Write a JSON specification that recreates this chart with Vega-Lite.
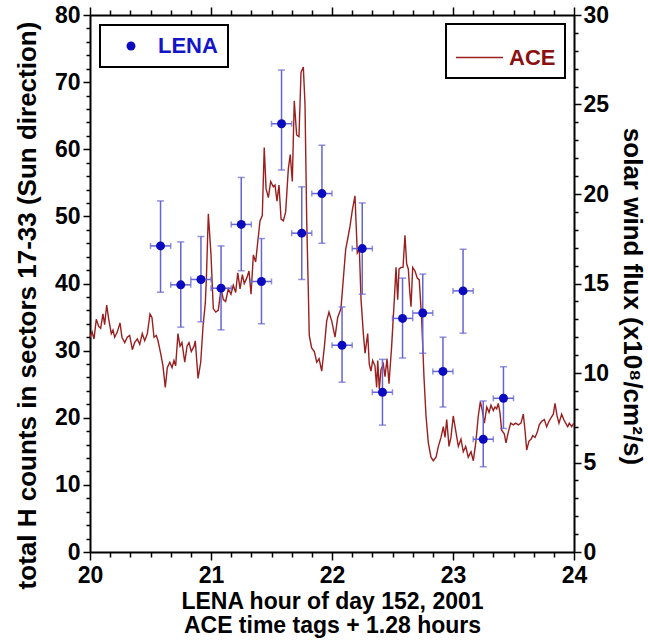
{
  "$schema": "https://vega.github.io/schema/vega-lite/v6.json",
  "width": 484,
  "height": 537,
  "autosize": {"type": "none"},
  "padding": {"left": 90, "top": 15, "right": 74, "bottom": 91},
  "config": {
    "view": {"stroke": null},
    "font": "Liberation Sans",
    "axis": {
      "grid": false,
      "domainColor": "black",
      "domainWidth": 2,
      "tickColor": "black",
      "tickWidth": 1.5,
      "labelFont": "Liberation Sans",
      "labelFontWeight": "bold",
      "labelFontSize": 23,
      "labelColor": "black",
      "titleFont": "Liberation Sans",
      "titleFontWeight": "bold",
      "titleColor": "black",
      "labelOverlap": false,
      "labelFlush": false
    },
    "legend": {
      "labelFont": "Liberation Sans",
      "labelFontWeight": "bold",
      "labelFontSize": 22,
      "strokeWidth": 2
    }
  },
  "datasets": {
    "ace": [
      {"hour":20.000,"flux":12.0},{"hour":20.017,"flux":12.3},{"hour":20.033,"flux":11.9},{"hour":20.052,"flux":13.0},{"hour":20.072,"flux":12.6},{"hour":20.088,"flux":12.5},{"hour":20.107,"flux":13.3},{"hour":20.121,"flux":12.7},{"hour":20.138,"flux":13.8},{"hour":20.155,"flux":13.0},{"hour":20.176,"flux":12.2},{"hour":20.190,"flux":12.4},{"hour":20.204,"flux":12.0},{"hour":20.226,"flux":12.3},{"hour":20.248,"flux":12.8},{"hour":20.264,"flux":12.0},{"hour":20.287,"flux":11.7},{"hour":20.308,"flux":12.0},{"hour":20.328,"flux":12.1},{"hour":20.350,"flux":11.3},{"hour":20.369,"flux":11.7},{"hour":20.391,"flux":11.9},{"hour":20.411,"flux":11.6},{"hour":20.432,"flux":12.2},{"hour":20.452,"flux":11.8},{"hour":20.474,"flux":12.2},{"hour":20.496,"flux":13.3},{"hour":20.512,"flux":13.1},{"hour":20.529,"flux":12.0},{"hour":20.548,"flux":12.1},{"hour":20.562,"flux":11.8},{"hour":20.584,"flux":11.1},{"hour":20.603,"flux":10.4},{"hour":20.622,"flux":9.2},{"hour":20.639,"flux":10.3},{"hour":20.659,"flux":10.6},{"hour":20.678,"flux":10.3},{"hour":20.694,"flux":10.7},{"hour":20.708,"flux":10.4},{"hour":20.727,"flux":12.2},{"hour":20.744,"flux":11.5},{"hour":20.760,"flux":11.7},{"hour":20.783,"flux":10.6},{"hour":20.802,"flux":11.5},{"hour":20.818,"flux":11.7},{"hour":20.837,"flux":11.2},{"hour":20.860,"flux":11.5},{"hour":20.870,"flux":11.8},{"hour":20.893,"flux":9.7},{"hour":20.915,"flux":10.6},{"hour":20.934,"flux":12.6},{"hour":20.953,"flux":13.9},{"hour":20.962,"flux":15.3},{"hour":20.978,"flux":18.9},{"hour":21.000,"flux":16.6},{"hour":21.019,"flux":13.6},{"hour":21.039,"flux":13.4},{"hour":21.060,"flux":13.5},{"hour":21.083,"flux":14.7},{"hour":21.102,"flux":14.1},{"hour":21.121,"flux":14.0},{"hour":21.143,"flux":14.7},{"hour":21.165,"flux":14.4},{"hour":21.184,"flux":14.9},{"hour":21.204,"flux":14.5},{"hour":21.221,"flux":15.6},{"hour":21.240,"flux":14.7},{"hour":21.259,"flux":15.5},{"hour":21.275,"flux":15.0},{"hour":21.295,"flux":15.3},{"hour":21.314,"flux":15.7},{"hour":21.331,"flux":14.4},{"hour":21.350,"flux":16.6},{"hour":21.369,"flux":16.2},{"hour":21.386,"flux":17.3},{"hour":21.405,"flux":18.5},{"hour":21.424,"flux":18.8},{"hour":21.440,"flux":22.6},{"hour":21.455,"flux":20.3},{"hour":21.474,"flux":19.8},{"hour":21.493,"flux":20.7},{"hour":21.515,"flux":20.4},{"hour":21.529,"flux":20.5},{"hour":21.545,"flux":19.6},{"hour":21.562,"flux":20.5},{"hour":21.579,"flux":18.6},{"hour":21.598,"flux":18.5},{"hour":21.617,"flux":19.0},{"hour":21.639,"flux":21.4},{"hour":21.655,"flux":22.2},{"hour":21.672,"flux":20.7},{"hour":21.688,"flux":25.2},{"hour":21.708,"flux":23.3},{"hour":21.727,"flux":23.2},{"hour":21.744,"flux":26.8},{"hour":21.763,"flux":27.1},{"hour":21.777,"flux":25.0},{"hour":21.791,"flux":18.5},{"hour":21.804,"flux":14.7},{"hour":21.812,"flux":12.1},{"hour":21.832,"flux":11.4},{"hour":21.854,"flux":11.2},{"hour":21.874,"flux":10.6},{"hour":21.893,"flux":10.8},{"hour":21.915,"flux":10.1},{"hour":21.936,"flux":11.4},{"hour":21.956,"flux":12.9},{"hour":21.975,"flux":13.4},{"hour":21.998,"flux":12.9},{"hour":22.025,"flux":12.0},{"hour":22.047,"flux":13.1},{"hour":22.074,"flux":13.6},{"hour":22.093,"flux":15.2},{"hour":22.113,"flux":16.9},{"hour":22.130,"flux":17.5},{"hour":22.149,"flux":18.2},{"hour":22.168,"flux":19.1},{"hour":22.190,"flux":19.9},{"hour":22.209,"flux":16.7},{"hour":22.226,"flux":16.9},{"hour":22.240,"flux":14.1},{"hour":22.259,"flux":12.2},{"hour":22.273,"flux":11.1},{"hour":22.295,"flux":12.2},{"hour":22.308,"flux":10.5},{"hour":22.322,"flux":10.1},{"hour":22.336,"flux":10.7},{"hour":22.355,"flux":10.4},{"hour":22.369,"flux":9.2},{"hour":22.378,"flux":10.7},{"hour":22.391,"flux":9.1},{"hour":22.405,"flux":10.2},{"hour":22.424,"flux":10.5},{"hour":22.438,"flux":9.8},{"hour":22.455,"flux":10.8},{"hour":22.471,"flux":9.4},{"hour":22.493,"flux":11.5},{"hour":22.515,"flux":14.1},{"hour":22.529,"flux":15.9},{"hour":22.543,"flux":14.1},{"hour":22.554,"flux":15.8},{"hour":22.570,"flux":15.9},{"hour":22.587,"flux":15.9},{"hour":22.603,"flux":17.7},{"hour":22.617,"flux":16.1},{"hour":22.631,"flux":15.8},{"hour":22.642,"flux":14.6},{"hour":22.653,"flux":13.7},{"hour":22.667,"flux":15.9},{"hour":22.686,"flux":15.7},{"hour":22.705,"flux":15.3},{"hour":22.721,"flux":15.2},{"hour":22.741,"flux":13.0},{"hour":22.760,"flux":9.8},{"hour":22.777,"flux":7.6},{"hour":22.796,"flux":6.1},{"hour":22.818,"flux":5.3},{"hour":22.837,"flux":5.1},{"hour":22.860,"flux":5.3},{"hour":22.879,"flux":5.9},{"hour":22.901,"flux":6.4},{"hour":22.920,"flux":7.0},{"hour":22.934,"flux":6.4},{"hour":22.948,"flux":7.4},{"hour":22.967,"flux":5.9},{"hour":22.983,"flux":6.4},{"hour":23.002,"flux":7.6},{"hour":23.022,"flux":6.8},{"hour":23.044,"flux":5.9},{"hour":23.066,"flux":6.3},{"hour":23.085,"flux":5.6},{"hour":23.105,"flux":5.9},{"hour":23.126,"flux":5.3},{"hour":23.149,"flux":5.6},{"hour":23.168,"flux":5.1},{"hour":23.188,"flux":6.1},{"hour":23.209,"flux":7.6},{"hour":23.226,"flux":8.4},{"hour":23.242,"flux":7.9},{"hour":23.259,"flux":7.2},{"hour":23.279,"flux":8.1},{"hour":23.298,"flux":7.8},{"hour":23.314,"flux":8.2},{"hour":23.333,"flux":7.9},{"hour":23.347,"flux":8.1},{"hour":23.361,"flux":8.0},{"hour":23.374,"flux":8.3},{"hour":23.388,"flux":7.8},{"hour":23.402,"flux":6.8},{"hour":23.424,"flux":6.6},{"hour":23.438,"flux":6.1},{"hour":23.457,"flux":6.7},{"hour":23.477,"flux":7.2},{"hour":23.498,"flux":7.1},{"hour":23.518,"flux":7.2},{"hour":23.540,"flux":7.1},{"hour":23.562,"flux":7.2},{"hour":23.581,"flux":7.7},{"hour":23.595,"flux":6.8},{"hour":23.609,"flux":5.7},{"hour":23.628,"flux":6.2},{"hour":23.645,"flux":6.3},{"hour":23.659,"flux":6.5},{"hour":23.678,"flux":6.4},{"hour":23.697,"flux":6.7},{"hour":23.713,"flux":7.1},{"hour":23.733,"flux":7.3},{"hour":23.755,"flux":7.4},{"hour":23.774,"flux":7.0},{"hour":23.793,"flux":7.3},{"hour":23.810,"flux":7.5},{"hour":23.829,"flux":7.7},{"hour":23.843,"flux":8.3},{"hour":23.860,"flux":7.6},{"hour":23.876,"flux":7.2},{"hour":23.898,"flux":7.7},{"hour":23.915,"flux":7.4},{"hour":23.931,"flux":7.2},{"hour":23.948,"flux":7.0},{"hour":23.961,"flux":7.2},{"hour":23.981,"flux":7.0},{"hour":23.998,"flux":7.2}
    ],
    "lena": [
      {"hour":20.583,"counts":45.6,"lo":38.7,"hi":52.3,"xlo":20.500,"xhi":20.667},
      {"hour":20.750,"counts":39.8,"lo":33.5,"hi":46.2,"xlo":20.667,"xhi":20.833},
      {"hour":20.917,"counts":40.6,"lo":34.3,"hi":47.0,"xlo":20.833,"xhi":21.000},
      {"hour":21.083,"counts":39.3,"lo":33.1,"hi":45.6,"xlo":21.000,"xhi":21.167},
      {"hour":21.250,"counts":48.8,"lo":41.9,"hi":55.8,"xlo":21.167,"xhi":21.333},
      {"hour":21.417,"counts":40.3,"lo":34.0,"hi":46.7,"xlo":21.333,"xhi":21.500},
      {"hour":21.583,"counts":63.8,"lo":56.9,"hi":71.8,"xlo":21.500,"xhi":21.667},
      {"hour":21.750,"counts":47.5,"lo":40.6,"hi":54.4,"xlo":21.667,"xhi":21.833},
      {"hour":21.917,"counts":53.4,"lo":46.0,"hi":60.6,"xlo":21.833,"xhi":22.000},
      {"hour":22.083,"counts":30.8,"lo":25.3,"hi":36.5,"xlo":22.000,"xhi":22.167},
      {"hour":22.250,"counts":45.2,"lo":38.4,"hi":52.0,"xlo":22.167,"xhi":22.333},
      {"hour":22.417,"counts":23.8,"lo":18.9,"hi":28.7,"xlo":22.333,"xhi":22.500},
      {"hour":22.583,"counts":34.8,"lo":28.9,"hi":40.8,"xlo":22.500,"xhi":22.667},
      {"hour":22.750,"counts":35.6,"lo":29.6,"hi":41.4,"xlo":22.667,"xhi":22.833},
      {"hour":22.917,"counts":26.9,"lo":21.6,"hi":32.0,"xlo":22.833,"xhi":23.000},
      {"hour":23.083,"counts":38.9,"lo":32.6,"hi":45.1,"xlo":23.000,"xhi":23.167},
      {"hour":23.250,"counts":16.8,"lo":12.7,"hi":22.5,"xlo":23.167,"xhi":23.333},
      {"hour":23.417,"counts":22.9,"lo":18.4,"hi":27.6,"xlo":23.333,"xhi":23.500}
    ]
  },
  "resolve": {"scale": {"y": "independent"}, "axis": {"x": "independent", "y": "independent"}},
  "layer": [
    {
      "data": {"name": "ace"},
      "mark": {"type": "line", "strokeWidth": 1.4},
      "encoding": {
        "x": {"field": "hour", "type": "quantitative",
          "scale": {"domain": [20, 24], "nice": false, "zero": false},
          "axis": {
            "orient": "bottom",
            "values": [20,20.1667,20.3333,20.5,20.6667,20.8333,21,21.1667,21.3333,21.5,21.6667,21.8333,22,22.1667,22.3333,22.5,22.6667,22.8333,23,23.1667,23.3333,23.5,23.6667,23.8333,24],
            "labelExpr": "abs(datum.value - round(datum.value)) < 0.01 ? format(datum.value, 'd') : ''",
            "tickSize": {"condition": {"test": "abs(datum.value - round(datum.value)) < 0.01", "value": 8}, "value": 5},
            "labelPadding": 4,
            "title": ["LENA hour of day 152, 2001", "ACE time tags + 1.28 hours"],
            "titleFontSize": 23,
            "titleLineHeight": 24,
            "titlePadding": 3
          }
        },
        "y": {"field": "flux", "type": "quantitative",
          "scale": {"domain": [0, 30], "nice": false, "zero": true},
          "axis": {
            "orient": "right",
            "values": [0,1,2,3,4,5,6,7,8,9,10,11,12,13,14,15,16,17,18,19,20,21,22,23,24,25,26,27,28,29,30],
            "labelExpr": "datum.value % 5 == 0 ? format(datum.value, 'd') : ''",
            "tickSize": {"condition": {"test": "datum.value % 5 == 0", "value": 7}, "value": 4},
            "labelPadding": 2,
            "labelBaseline": "middle",
            "title": "solar wind flux (x10⁸/cm²/s)",
            "titleFontSize": 26,
            "titleY": 281,
            "titlePadding": 10
          }
        },
        "stroke": {"datum": "ACE", "type": "nominal",
          "scale": {"range": ["#9a1f1f"]},
          "legend": {
            "title": null, "orient": "top-right", "offset": 9, "padding": 9,
            "strokeColor": "black", "fillColor": "white",
            "symbolType": "stroke", "symbolSize": 2209, "symbolStrokeWidth": 1.5,
            "labelColor": "#8b1010", "labelOffset": 5, "labelFontSize": 22
          }
        }
      }
    },
    {
      "data": {"name": "lena"},
      "mark": {"type": "rule", "color": "#6464d2", "strokeWidth": 1.5},
      "encoding": {
        "x": {"field": "hour", "type": "quantitative",
          "scale": {"domain": [20, 24], "nice": false, "zero": false},
          "axis": {
            "orient": "top",
            "values": [20,20.1667,20.3333,20.5,20.6667,20.8333,21,21.1667,21.3333,21.5,21.6667,21.8333,22,22.1667,22.3333,22.5,22.6667,22.8333,23,23.1667,23.3333,23.5,23.6667,23.8333,24],
            "labels": false,
            "tickSize": {"condition": {"test": "abs(datum.value - round(datum.value)) < 0.01", "value": 8}, "value": 5},
            "title": null
          }
        },
        "y": {"field": "lo", "type": "quantitative",
          "scale": {"domain": [0, 80], "nice": false},
          "axis": {
            "orient": "left",
            "values": [0,2,4,6,8,10,12,14,16,18,20,22,24,26,28,30,32,34,36,38,40,42,44,46,48,50,52,54,56,58,60,62,64,66,68,70,72,74,76,78,80],
            "labelExpr": "datum.value % 10 == 0 ? format(datum.value, 'd') : ''",
            "tickSize": {"condition": {"test": "datum.value % 10 == 0", "value": 7}, "value": 4},
            "labelPadding": 3,
            "labelBaseline": "middle",
            "title": "total H counts in sectors 17-33 (Sun direction)",
            "titleFontSize": 26,
            "titleY": 290,
            "titlePadding": 14
          }
        },
        "y2": {"field": "hi"}
      }
    },
    {
      "data": {"name": "lena"},
      "mark": {"type": "tick", "orient": "horizontal", "color": "#6464d2", "size": 7, "thickness": 1.5},
      "encoding": {
        "x": {"field": "hour", "type": "quantitative", "scale": {"domain": [20, 24], "nice": false, "zero": false}, "axis": null},
        "y": {"field": "lo", "type": "quantitative", "scale": {"domain": [0, 80], "nice": false}, "axis": null}
      }
    },
    {
      "data": {"name": "lena"},
      "mark": {"type": "tick", "orient": "horizontal", "color": "#6464d2", "size": 7, "thickness": 1.5},
      "encoding": {
        "x": {"field": "hour", "type": "quantitative", "scale": {"domain": [20, 24], "nice": false, "zero": false}, "axis": null},
        "y": {"field": "hi", "type": "quantitative", "scale": {"domain": [0, 80], "nice": false}, "axis": null}
      }
    },
    {
      "data": {"name": "lena"},
      "mark": {"type": "rule", "color": "#6464d2", "strokeWidth": 1.5},
      "encoding": {
        "x": {"field": "xlo", "type": "quantitative", "scale": {"domain": [20, 24], "nice": false, "zero": false}, "axis": null},
        "x2": {"field": "xhi"},
        "y": {"field": "counts", "type": "quantitative", "scale": {"domain": [0, 80], "nice": false}, "axis": null}
      }
    },
    {
      "data": {"name": "lena"},
      "mark": {"type": "tick", "orient": "vertical", "color": "#6464d2", "size": 6, "thickness": 1.5},
      "encoding": {
        "x": {"field": "xlo", "type": "quantitative", "scale": {"domain": [20, 24], "nice": false, "zero": false}, "axis": null},
        "y": {"field": "counts", "type": "quantitative", "scale": {"domain": [0, 80], "nice": false}, "axis": null}
      }
    },
    {
      "data": {"name": "lena"},
      "mark": {"type": "tick", "orient": "vertical", "color": "#6464d2", "size": 6, "thickness": 1.5},
      "encoding": {
        "x": {"field": "xhi", "type": "quantitative", "scale": {"domain": [20, 24], "nice": false, "zero": false}, "axis": null},
        "y": {"field": "counts", "type": "quantitative", "scale": {"domain": [0, 80], "nice": false}, "axis": null}
      }
    },
    {
      "data": {"name": "lena"},
      "mark": {"type": "point", "filled": true, "size": 80, "opacity": 1, "shape": "circle"},
      "encoding": {
        "x": {"field": "hour", "type": "quantitative", "scale": {"domain": [20, 24], "nice": false, "zero": false}, "axis": null},
        "y": {"field": "counts", "type": "quantitative", "scale": {"domain": [0, 80], "nice": false}, "axis": null},
        "fill": {"datum": "LENA", "type": "nominal",
          "scale": {"range": ["#0b0bc0"]},
          "legend": {
            "title": null, "orient": "top-left", "offset": 10, "padding": 10,
            "strokeColor": "black", "fillColor": "white",
            "symbolType": "circle", "symbolSize": 80, "symbolOffset": 10,
            "labelColor": "#1414c8", "labelOffset": 16, "labelFontSize": 22
          }
        }
      }
    }
  ]
}
